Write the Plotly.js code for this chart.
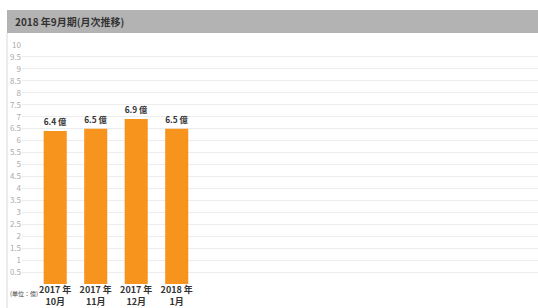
<!DOCTYPE html>
<html><head><meta charset="utf-8">
<script src="https://cdn.plot.ly/plotly-3.0.1.min.js"></script>
<style>html,body{margin:0;padding:0;background:#fff;}#c{width:538px;height:308px;}</style>
</head><body><div id="c"></div>
<script>
const categories = ["2017 年<br>10月", "2017 年<br>11月", "2017 年<br>12月", "2018 年<br>1月"];
const values = [6.4, 6.5, 6.9, 6.5];
const valueLabels = ["6.4 億", "6.5 億", "6.9 億", "6.5 億"];
const tickValues = [0.5,1,1.5,2,2.5,3,3.5,4,4.5,5,5.5,6,6.5,7,7.5,8,8.5,9,9.5,10];
const headerText = "2018 年9月期(月次推移)";
const unitText = "(単位：億)";

const F = "'Noto Sans CJK JP', 'Noto Sans', sans-serif";
const xIdx = categories.map((c,i)=>i);

const L = 22, T = 45, W = 516, H = 239;
const px = x => (x - L) / W;
const py = y => (T + H - y) / H;

Plotly.newPlot('c', [{
  type: 'bar',
  x: xIdx,
  y: values,
  text: valueLabels,
  textposition: 'outside',
  cliponaxis: false,
  textfont: {family: F, size: 12.5, color: '#333', weight: 'bold'},
  marker: {color: '#F7941D'},
  hoverinfo: 'none'
}], {
  width: 538, height: 308,
  margin: {l: L, r: 0, t: T, b: 308 - T - H, pad: 0},
  paper_bgcolor: '#fff', plot_bgcolor: '#fff',
  bargap: 0.43,
  showlegend: false,
  font: {family: F},
  xaxis: {
    range: [-0.82, 11.92],
    tickvals: xIdx, ticktext: categories,
    tickangle: 0,
    ticklabelstandoff: -1,
    showgrid: false, zeroline: false, showline: false,
    tickfont: {family: F, size: 9, color: '#333', weight: 'bold'},
    ticklen: 0, ticks: ''
  },
  yaxis: {
    range: [0, 10],
    tickvals: tickValues,
    ticktext: tickValues.map(String),
    tickfont: {family: F, size: 8, color: '#aaa'},
    gridcolor: '#ececec', gridwidth: 1,
    zeroline: false, showline: false, ticks: '', ticklen: 0
  },
  shapes: [
    {type: 'rect', xref: 'paper', yref: 'paper', x0: px(7), x1: px(538), y0: py(33), y1: py(10),
     fillcolor: '#b3b3b3', line: {width: 0}, layer: 'below'},
    {type: 'line', xref: 'paper', yref: 'paper', x0: px(7), x1: px(7), y0: py(308), y1: py(33),
     line: {color: '#d8d8d8', width: 1}, layer: 'below'}
  ],
  annotations: [
    {text: '<b>' + headerText + '</b>', xref: 'paper', yref: 'paper', x: px(13), y: py(22),
     xanchor: 'left', yanchor: 'middle', showarrow: false, font: {family: F, size: 10, color: '#333'}},
    {text: unitText, xref: 'paper', yref: 'paper', x: px(8), y: py(293),
     xanchor: 'left', yanchor: 'middle', showarrow: false, font: {family: F, size: 6, color: '#444'}}
  ]
}, {staticPlot: true});
</script></body></html>
